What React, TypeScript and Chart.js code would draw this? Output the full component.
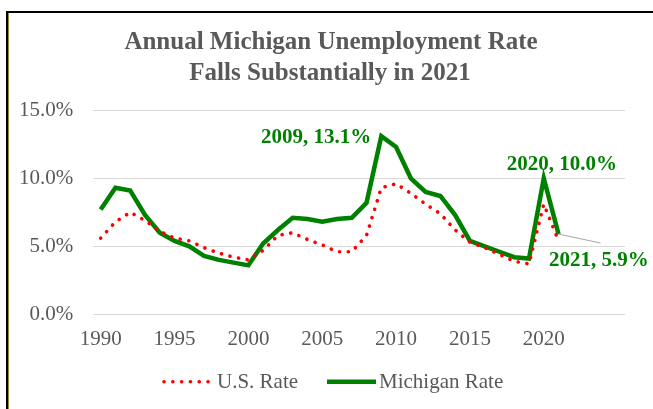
import React, { useEffect, useRef } from "react";
import { Chart, registerables } from "chart.js";

Chart.register(...registerables);

const categories = [
  "1990", "1991", "1992", "1993", "1994", "1995", "1996", "1997", "1998", "1999",
  "2000", "2001", "2002", "2003", "2004", "2005", "2006", "2007", "2008", "2009",
  "2010", "2011", "2012", "2013", "2014", "2015", "2016", "2017", "2018", "2019",
  "2020", "2021", "2022", "2023", "2024", "2025",
];

const xTickLabels = ["1990", "1995", "2000", "2005", "2010", "2015", "2020"];

const usRate = [
  5.6, 6.8, 7.5, 6.9, 6.1, 5.6, 5.4, 4.9, 4.5, 4.2,
  4.0, 4.7, 5.8, 6.0, 5.5, 5.1, 4.6, 4.6, 5.8, 9.3,
  9.6, 8.9, 8.1, 7.4, 6.2, 5.3, 4.9, 4.4, 3.9, 3.7,
  8.1, 5.4, null, null, null, null,
];

const michiganRate = [
  7.7, 9.3, 9.1, 7.3, 6.0, 5.4, 5.0, 4.3, 4.0, 3.8,
  3.6, 5.2, 6.2, 7.1, 7.0, 6.8, 7.0, 7.1, 8.2, 13.1,
  12.3, 10.0, 9.0, 8.7, 7.3, 5.4, 5.0, 4.6, 4.2, 4.1,
  10.0, 5.9, null, null, null, null,
];

const titleLines = ["Annual Michigan Unemployment Rate", "Falls Substantially in 2021"];
const seriesNames = ["U.S. Rate", "Michigan Rate"];
const annotatedYears = ["2009", "2020", "2021"];
const yTicks = [0, 5, 10, 15];

const GRAY_TEXT = "#595959";
const GREEN = "#008000";
const RED = "#ff0000";
const FONT = "'Liberation Serif', 'Times New Roman', serif";

const overlayPlugin = {
  id: "overlay",
  afterDraw(chart: any) {
    const ctx = chart.ctx;
    const xs = chart.scales.x;
    const ys = chart.scales.y;
    ctx.save();

    // Title
    ctx.fillStyle = GRAY_TEXT;
    ctx.font = `bold 25px ${FONT}`;
    ctx.textAlign = "center";
    ctx.textBaseline = "alphabetic";
    ctx.fillText(titleLines[0], 331, 48.5);
    ctx.fillText(titleLines[1], 330, 79.5);

    // Legend
    const ds0 = chart.data.datasets[0];
    const ds1 = chart.data.datasets[1];
    const ly = 381.7;
    ctx.lineCap = "round";
    ctx.strokeStyle = ds0.borderColor;
    ctx.lineWidth = ds0.borderWidth;
    ctx.setLineDash(ds0.borderDash);
    ctx.beginPath();
    ctx.moveTo(164, ly);
    ctx.lineTo(209, ly);
    ctx.stroke();
    ctx.setLineDash([]);
    ctx.lineCap = "butt";
    ctx.strokeStyle = ds1.borderColor;
    ctx.lineWidth = ds1.borderWidth;
    ctx.beginPath();
    ctx.moveTo(327, ly);
    ctx.lineTo(376, ly);
    ctx.stroke();
    ctx.fillStyle = GRAY_TEXT;
    ctx.font = `21px ${FONT}`;
    ctx.textAlign = "left";
    ctx.fillText(seriesNames[0], 217, 388.3);
    ctx.fillText(seriesNames[1], 379, 388.3);

    // Data labels
    ctx.fillStyle = GREEN;
    ctx.font = `bold 21px ${FONT}`;
    const label = (year: string) => {
      const i = categories.indexOf(year);
      const v = michiganRate[i] as number;
      return { text: `${year}, ${v.toFixed(1)}%`, px: xs.getPixelForValue(i), py: ys.getPixelForValue(v) };
    };
    const a = label(annotatedYears[0]);
    ctx.textAlign = "right";
    ctx.fillText(a.text, a.px - 10, a.py + 7.3);
    const b = label(annotatedYears[1]);
    ctx.textAlign = "center";
    ctx.fillText(b.text, b.px + 18, b.py - 8);
    const c = label(annotatedYears[2]);
    ctx.strokeStyle = "#a6a6a6";
    ctx.lineWidth = 1;
    ctx.beginPath();
    ctx.moveTo(c.px, c.py);
    ctx.lineTo(c.px + 42, c.py + 9);
    ctx.stroke();
    ctx.textAlign = "left";
    ctx.fillStyle = GREEN;
    ctx.fillText(c.text, c.px - 9.5, c.py + 31.7);

    ctx.restore();
  },
};

export default function App() {
  const canvasRef = useRef<HTMLCanvasElement | null>(null);

  useEffect(() => {
    if (!canvasRef.current) return;
    const chart = new Chart(canvasRef.current, {
      type: "line",
      data: {
        labels: categories,
        datasets: [
          {
            label: seriesNames[0],
            data: usRate,
            borderColor: RED,
            borderWidth: 3.6,
            borderDash: [0.1, 8.7],
            borderCapStyle: "round",
            pointRadius: 0,
            tension: 0,
            fill: false,
            spanGaps: false,
          },
          {
            label: seriesNames[1],
            data: michiganRate,
            borderColor: GREEN,
            borderWidth: 4.5,
            borderJoinStyle: "miter",
            pointRadius: 0,
            tension: 0,
            fill: false,
          },
        ],
      },
      options: {
        responsive: false,
        animation: false,
        devicePixelRatio: 1,
        layout: { padding: { left: 0, right: 28, top: 110.3, bottom: 0 } },
        plugins: {
          legend: { display: false },
          title: { display: false },
          tooltip: { enabled: false },
        },
        scales: {
          x: {
            type: "category",
            offset: true,
            grid: { display: false, drawTicks: false },
            border: { display: false },
            ticks: {
              autoSkip: false,
              maxRotation: 0,
              minRotation: 0,
              padding: 13,
              color: GRAY_TEXT,
              font: { family: FONT, size: 21 },
              callback: (_v: any, i: number) => (xTickLabels.includes(categories[i]) ? categories[i] : ""),
            },
            afterFit: (s: any) => {
              s.height = 94.7;
            },
          },
          y: {
            min: yTicks[0],
            max: yTicks[yTicks.length - 1],
            grid: { color: "#d9d9d9", lineWidth: 1, drawTicks: false },
            border: { display: false },
            ticks: {
              stepSize: 5,
              padding: 20,
              color: GRAY_TEXT,
              font: { family: FONT, size: 21 },
              callback: (v: any) => `${Number(v).toFixed(1)}%`,
            },
            afterFit: (s: any) => {
              s.width = 93.3;
            },
          },
        },
      },
      plugins: [overlayPlugin],
    });
    return () => chart.destroy();
  }, []);

  return (
    <div style={{ position: "fixed", left: 0, top: 0, width: 653, height: 409, overflow: "hidden", background: "#fff" }}>
      <div
        style={{
          position: "absolute",
          left: 6,
          top: 11,
          width: 700,
          height: 500,
          borderTop: "2px solid #000",
          borderLeft: "2px solid #000",
          boxShadow: "inset 1px 0 0 #8c8c3a",
        }}
      />
      <canvas ref={canvasRef} width={653} height={409} style={{ position: "absolute", left: 0, top: 0, display: "block" }} />
    </div>
  );
}
